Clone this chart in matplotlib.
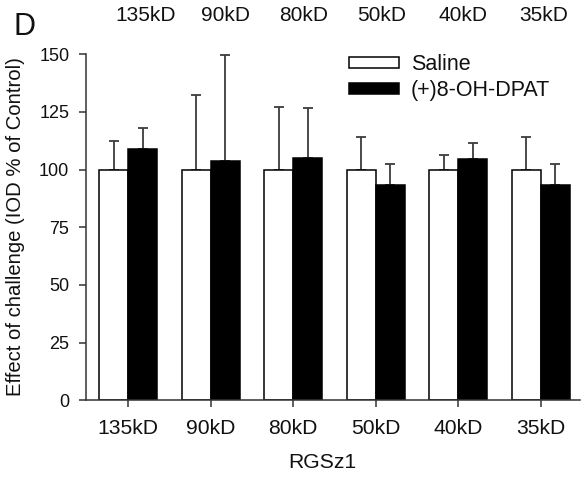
import numpy as np
import matplotlib
matplotlib.use("Agg")
import matplotlib.pyplot as plt
from matplotlib.patches import Patch

plt.rcParams['font.family'] = ['Liberation Sans', 'DejaVu Sans']

# RGSz1 band sizes
categories = ["135kD", "90kD", "80kD", "50kD", "40kD", "35kD"]
top_labels = ["135kD", "90kD", "80kD", "50kD", "40kD", "35kD"]

# IOD as % of control (mean and upper SEM)
saline_mean = [100, 100, 100, 100, 100, 100]
saline_err = [12.5, 32.2, 27.2, 14.3, 6.5, 14.3]
dpat_mean = [108.9, 103.7, 105.2, 93.2, 104.7, 93.2]
dpat_err = [9.0, 46.0, 21.5, 9.2, 6.7, 9.2]

yticks = [0, 25, 50, 75, 100, 125, 150]

W, H = 581, 479
fig = plt.figure(figsize=(W / 100, H / 100), dpi=100)
ax = fig.add_axes([86 / W, 1 - 400.3 / H, (580 - 86) / W, (400.3 - 54.3) / H])

x = np.arange(len(categories))
bw = 0.35
axis_col = "#333333"
err_col = "#3c3c3c"
txt_col = "#111111"

ax.bar(x - bw / 2, saline_mean, bw, color="white", edgecolor="black", linewidth=1.1, zorder=2)
ax.bar(x + bw / 2, dpat_mean, bw, color="black", edgecolor="black", linewidth=1.1, zorder=2)

zeros = np.zeros(len(x))
ax.errorbar(x - bw / 2, saline_mean, yerr=[zeros, saline_err], fmt="none",
            ecolor=err_col, elinewidth=1.3, capsize=3.6, capthick=1.3, zorder=1)
ax.errorbar(x + bw / 2, dpat_mean, yerr=[zeros, dpat_err], fmt="none",
            ecolor=err_col, elinewidth=1.3, capsize=3.6, capthick=1.3, zorder=1)

ax.set_xlim(-0.513, 5.477)
ax.set_ylim(0, 150)
ax.set_yticks(yticks)
ax.set_yticklabels([str(t) for t in yticks], fontsize=13, color=txt_col)
ax.set_xticks(x)
ax.set_xticklabels(categories, fontsize=15.2, color=txt_col)

for s in ["top", "right"]:
    ax.spines[s].set_visible(False)
for s in ["left", "bottom"]:
    ax.spines[s].set_color(axis_col)
    ax.spines[s].set_linewidth(1.1)
ax.tick_params(axis="both", direction="out", length=5, width=1.1, color=axis_col)
ax.tick_params(axis="x", pad=8.5)
ax.tick_params(axis="y", pad=7)

ax.set_ylabel("Effect of challenge (IOD % of Control)", fontsize=14.6, color=txt_col)
ax.yaxis.set_label_coords(16 / W, 1 - 227 / H, transform=fig.transFigure)
ax.yaxis.label.set_va("center")
ax.set_xlabel("RGSz1", fontsize=15.2, color=txt_col)
ax.xaxis.set_label_coords(322 / W, 1 - 462 / H, transform=fig.transFigure)
ax.xaxis.label.set_va("center")

# band labels along the top
top_x = [146, 225, 304, 382, 463, 543.5]
for lab, px in zip(top_labels, top_x):
    fig.text(px / W, 1 - 15.5 / H, lab, ha="center", va="center", fontsize=15, color=txt_col)

fig.text(13 / W, 1 - 35 / H, "D", ha="left", va="baseline", fontsize=22, color=txt_col)

handles = [Patch(facecolor="white", edgecolor="black", linewidth=1.1),
           Patch(facecolor="black", edgecolor="black", linewidth=1.1)]
leg = fig.legend(handles, ["Saline", "(+)8-OH-DPAT"], loc="upper left",
                 bbox_to_anchor=(349 / W, 1 - 54 / H), frameon=False,
                 fontsize=15.5, handlelength=2.33, handleheight=0.38,
                 handletextpad=0.55, labelspacing=0.25, borderpad=0, borderaxespad=0)
for t in leg.get_texts():
    t.set_color(txt_col)

fig.savefig("out.png", dpi=100)
